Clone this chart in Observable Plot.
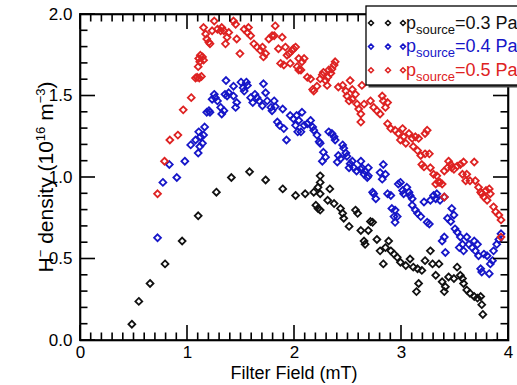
<!DOCTYPE html>
<html><head><meta charset="utf-8">
<script src="https://cdn.jsdelivr.net/npm/d3@7"></script>
<script src="https://cdn.jsdelivr.net/npm/@observablehq/plot@0.6"></script>
<style>
html,body{margin:0;padding:0;background:#fff;}
#chart{position:relative;width:517px;height:385px;overflow:hidden;}
#overlay{position:absolute;left:0;top:0;width:517px;height:385px;pointer-events:none;}
</style></head><body><div id="chart"></div>
<script>
// ---- data (Filter Field in mT, H- density in 1e16 m^-3) ----
const field03 = [0.48,0.545,0.65,0.79,0.95,1.10,1.27,1.41,1.58,1.73,1.89,2.01,2.10,2.18,2.20,2.22,2.22,2.24,2.24,2.24,2.24,2.31,2.33,2.37,2.43,2.45,2.46,2.51,2.57,2.59,2.62,2.65,2.66,2.69,2.71,2.73,2.77,2.80,2.83,2.85,2.88,2.90,2.93,2.96,2.99,3.04,3.08,3.11,3.14,3.15,3.16,3.19,3.22,3.27,3.29,3.32,3.35,3.38,3.40,3.41,3.44,3.49,3.52,3.55,3.57,3.58,3.61,3.64,3.68,3.71,3.74,3.75,3.76];
const density03 = [0.10,0.24,0.35,0.47,0.61,0.765,0.91,1.00,1.035,0.985,0.93,0.89,0.90,0.91,0.83,0.94,0.81,1.01,0.97,0.90,0.80,0.86,0.93,0.84,0.81,0.78,0.75,0.70,0.80,0.78,0.675,0.61,0.59,0.675,0.73,0.725,0.62,0.55,0.47,0.57,0.61,0.55,0.53,0.51,0.48,0.46,0.50,0.45,0.30,0.44,0.35,0.43,0.49,0.55,0.47,0.40,0.47,0.36,0.30,0.33,0.39,0.38,0.45,0.40,0.38,0.35,0.31,0.29,0.27,0.26,0.27,0.22,0.16];

const field04 = [0.72,0.77,0.83,0.90,0.975,1.03,1.075,1.10,1.105,1.115,1.12,1.14,1.15,1.16,1.18,1.20,1.21,1.23,1.25,1.26,1.28,1.31,1.32,1.34,1.35,1.36,1.37,1.385,1.43,1.43,1.45,1.46,1.50,1.52,1.53,1.55,1.56,1.59,1.61,1.63,1.65,1.67,1.70,1.71,1.73,1.745,1.78,1.79,1.81,1.82,1.84,1.86,1.89,1.90,1.925,1.96,1.99,2.01,2.02,2.03,2.04,2.06,2.07,2.09,2.12,2.15,2.17,2.18,2.21,2.23,2.24,2.26,2.27,2.29,2.32,2.35,2.37,2.38,2.40,2.41,2.43,2.45,2.46,2.48,2.49,2.51,2.52,2.54,2.555,2.58,2.62,2.62,2.63,2.65,2.66,2.68,2.69,2.69,2.73,2.74,2.76,2.80,2.82,2.83,2.85,2.87,2.90,2.91,2.93,2.94,2.94,2.96,2.97,2.99,3.01,3.02,3.05,3.07,3.08,3.10,3.10,3.13,3.15,3.18,3.21,3.24,3.26,3.27,3.30,3.32,3.33,3.36,3.38,3.40,3.40,3.41,3.43,3.46,3.47,3.49,3.50,3.52,3.54,3.55,3.57,3.58,3.61,3.63,3.66,3.68,3.69,3.71,3.72,3.74,3.75,3.77,3.80,3.82,3.83,3.85,3.86,3.89,3.91,3.93];
const density04 = [0.63,0.97,1.08,1.00,1.10,1.20,1.23,1.15,1.28,1.19,1.25,1.21,1.26,1.31,1.40,1.41,1.40,1.48,1.51,1.49,1.47,1.43,1.39,1.41,1.51,1.595,1.50,1.52,1.56,1.50,1.43,1.46,1.585,1.55,1.53,1.585,1.565,1.49,1.46,1.51,1.49,1.47,1.44,1.575,1.52,1.47,1.43,1.41,1.47,1.435,1.34,1.32,1.42,1.30,1.23,1.38,1.36,1.32,1.38,1.28,1.35,1.28,1.40,1.32,1.33,1.35,1.31,1.29,1.26,1.22,1.21,1.10,1.155,1.125,1.28,1.27,1.25,1.23,1.095,1.135,1.115,1.20,1.18,1.15,1.13,1.06,1.085,1.10,1.06,1.04,1.10,1.05,1.06,1.02,1.04,1.00,1.06,1.01,0.91,0.90,0.87,1.03,0.99,1.08,1.02,0.90,0.89,0.81,0.76,0.80,0.725,0.76,0.96,0.97,0.92,0.90,0.94,0.91,0.89,0.87,0.83,0.80,0.78,0.76,0.85,0.725,0.715,0.86,0.89,0.87,0.90,0.86,0.61,0.88,0.635,0.54,0.75,0.73,0.81,0.77,0.685,0.665,0.57,0.635,0.59,0.55,0.635,0.59,0.57,0.61,0.55,0.59,0.52,0.44,0.42,0.53,0.52,0.41,0.47,0.49,0.55,0.59,0.62,0.655];

const field05 = [0.72,0.785,0.835,0.91,0.96,1.035,1.075,1.09,1.10,1.105,1.11,1.115,1.12,1.13,1.14,1.15,1.15,1.17,1.18,1.20,1.21,1.23,1.25,1.28,1.31,1.32,1.34,1.355,1.37,1.385,1.43,1.45,1.46,1.49,1.53,1.56,1.57,1.59,1.62,1.65,1.68,1.70,1.71,1.73,1.76,1.79,1.81,1.82,1.85,1.87,1.885,1.90,1.915,1.93,1.95,1.96,1.98,1.99,2.01,2.025,2.04,2.04,2.06,2.07,2.09,2.12,2.15,2.17,2.18,2.21,2.24,2.26,2.27,2.29,2.305,2.31,2.32,2.34,2.35,2.37,2.38,2.41,2.45,2.48,2.49,2.51,2.52,2.54,2.54,2.57,2.585,2.60,2.62,2.62,2.63,2.65,2.71,2.74,2.77,2.80,2.82,2.83,2.85,2.87,2.87,2.90,2.94,2.97,2.99,3.01,3.02,3.04,3.07,3.10,3.11,3.13,3.15,3.16,3.18,3.19,3.21,3.22,3.22,3.24,3.26,3.27,3.30,3.32,3.33,3.35,3.36,3.38,3.40,3.40,3.43,3.44,3.46,3.47,3.49,3.52,3.55,3.57,3.58,3.60,3.61,3.64,3.68,3.69,3.72,3.74,3.75,3.77,3.79,3.80,3.82,3.83,3.86,3.88,3.91,3.93,3.93];
const density05 = [0.90,1.10,1.23,1.26,1.415,1.49,1.61,1.615,1.68,1.73,1.61,1.71,1.75,1.62,1.74,1.72,1.92,1.88,1.85,1.83,1.82,1.90,1.96,1.91,1.90,1.92,1.90,1.82,1.86,1.89,1.96,1.94,1.85,1.76,1.91,1.89,1.92,1.87,1.82,1.80,1.78,1.80,1.74,1.76,1.85,1.87,1.87,1.93,1.79,1.70,1.86,1.69,1.80,1.75,1.76,1.70,1.78,1.79,1.80,1.68,1.66,1.73,1.66,1.71,1.73,1.615,1.605,1.54,1.53,1.56,1.605,1.63,1.645,1.595,1.565,1.615,1.66,1.64,1.665,1.69,1.71,1.555,1.565,1.53,1.50,1.47,1.595,1.54,1.48,1.51,1.45,1.42,1.39,1.34,1.565,1.45,1.47,1.43,1.41,1.39,1.50,1.47,1.43,1.46,1.33,1.30,1.29,1.27,1.23,1.30,1.25,1.21,1.27,1.24,1.19,1.25,1.165,1.24,1.135,1.08,1.065,1.27,1.145,1.29,1.145,1.06,1.02,0.96,1.01,0.97,0.97,0.96,1.04,0.88,1.06,1.10,1.08,1.06,1.05,1.07,1.08,1.02,1.095,0.98,1.02,0.98,1.095,0.98,0.94,0.91,0.90,0.88,0.92,0.86,0.93,0.90,0.82,0.79,0.77,0.74,0.635];

const seriesNames = ["0.3 Pa", "0.4 Pa", "0.5 Pa"];
const seriesColors = ["#111111", "#1616c8", "#de2222"];
const xTickValues = [0, 1, 2, 3, 4];
const yTickValues = [0, 0.5, 1.0, 1.5, 2.0];
const xLabel = "Filter Field (mT)";

// ---- build table ----
const rows = [];
[[field03, density03], [field04, density04], [field05, density05]].forEach(([xs, ys], i) => {
  xs.forEach((x, j) => rows.push({field: x, density: ys[j], series: seriesNames[i]}));
});
const xMinor = d3.range(0, 41).map(i => i / 10).filter(v => Math.abs(v - Math.round(v)) > 1e-9);
const yMinor = d3.range(0, 21).map(i => i / 10).filter(v => Math.abs(v * 2 - Math.round(v * 2)) > 1e-9);

const W = 517, H = 385, mL = 80, mR = 9, mT = 14, mB = 45;
const MAJ = 15, MIN = 7.5, TW = 1.6;
const font = "'Liberation Sans', Arial, sans-serif";

const plot = Plot.plot({
  width: W, height: H,
  marginLeft: mL, marginRight: mR, marginTop: mT, marginBottom: mB,
  style: {fontFamily: font, fontSize: "17px", color: "#000", background: "#fff"},
  x: {domain: [0, 4], ticks: xTickValues, tickSize: 0, tickPadding: 5, tickFormat: d => String(d), label: null},
  y: {domain: [0, 2], ticks: yTickValues, tickSize: 0, tickPadding: 8, tickFormat: d3.format(".1f"), label: null},
  color: {domain: seriesNames, range: seriesColors},
  marks: [
    Plot.dot(rows, {x: "field", y: "density", stroke: "series", symbol: "diamond2", r: 3.1, strokeWidth: 1.8, fill: "none"}),
    Plot.frame({stroke: "#000", strokeWidth: 1.6})
  ]
});
const chart = document.getElementById("chart");
chart.appendChild(plot);

// positions from the plot's own scales
const sx = plot.scale("x"), sy = plot.scale("y");
const X = v => sx.apply(v), Y = v => sy.apply(v);
const x0 = X(0), x1 = X(4), y0 = Y(0), y1 = Y(2);

// ---- axis titles and legend inside the plot svg ----
const svg = d3.select(plot);
svg.append("text").attr("x", (x0 + x1) / 2).attr("y", 379)
  .attr("text-anchor", "middle").attr("font-family", font).attr("font-size", 18).attr("fill", "#000")
  .text(xLabel);

const yt = svg.append("text")
  .attr("transform", `translate(53,${(y0 + y1) / 2}) rotate(-90)`)
  .attr("text-anchor", "middle").attr("font-family", font).attr("font-size", 21).attr("fill", "#000");
yt.append("tspan").text("H");
yt.append("tspan").attr("dy", -8).attr("font-size", 13).text("\u2212");
yt.append("tspan").attr("dy", 8).text(" density (10");
yt.append("tspan").attr("dy", -8).attr("font-size", 13).text("16");
yt.append("tspan").attr("dy", 8).text(" m");
yt.append("tspan").attr("dy", -8).attr("font-size", 13).text("\u22123");
yt.append("tspan").attr("dy", 8).text(")");

// ---- inward ticks as filled rectangles in a separate overlay svg ----
const ov = d3.select(chart).append("svg").attr("id", "overlay")
  .attr("width", W).attr("height", H).attr("viewBox", `0 0 ${W} ${H}`);
const tg = ov.append("g").attr("fill", "#000");
const hw = TW / 2;
const vRect = (px, top, len) => tg.append("rect").attr("x", px - hw).attr("y", top).attr("width", TW).attr("height", len);
const hRect = (py, left, len) => tg.append("rect").attr("x", left).attr("y", py - hw).attr("width", len).attr("height", TW);
const addX = (vals, len) => vals.forEach(v => { vRect(X(v), y0 - len, len); vRect(X(v), y1, len); });
const addY = (vals, len) => vals.forEach(v => { hRect(Y(v), x0, len); hRect(Y(v), x1 - len, len); });
addX(xTickValues, MAJ); addX(xMinor, MIN); addY(yTickValues, MAJ); addY(yMinor, MIN);
// frame edges
vRect(x0, y1 - hw, y0 - y1 + TW); vRect(x1, y1 - hw, y0 - y1 + TW);
hRect(y1, x0 - hw, x1 - x0 + TW); hRect(y0, x0 - hw, x1 - x0 + TW);

// ---- legend (on top of everything) ----
const lg = ov.append("g");
lg.append("rect").attr("x", 368.5).attr("y", 8.5).attr("width", 170).attr("height", 79).attr("fill", "#444");
lg.append("rect").attr("x", 366).attr("y", 6).attr("width", 170).attr("height", 79).attr("fill", "#fff").attr("stroke", "#000").attr("stroke-width", 1.3);
const diamond = d3.symbol(d3.symbolDiamond2, 16)();
seriesNames.forEach((name, i) => {
  const cy = 23 + i * 23.6;
  const col = seriesColors[i];
  [371, 388, 403].forEach(cx => {
    lg.append("path").attr("d", diamond).attr("transform", `translate(${cx},${cy})`)
      .attr("fill", "none").attr("stroke", col).attr("stroke-width", 1.5);
  });
  const base = cy + 5.5;
  const t = (x, y, size, s) => lg.append("text").attr("x", x).attr("y", y).attr("text-anchor", "start")
    .attr("font-family", font).attr("font-size", size).attr("fill", col).text(s);
  t(406, base, 18, "p");
  t(416, base + 5, 13, "source");
  t(455, base, 18, "=" + name);
});
</script>
</body></html>
